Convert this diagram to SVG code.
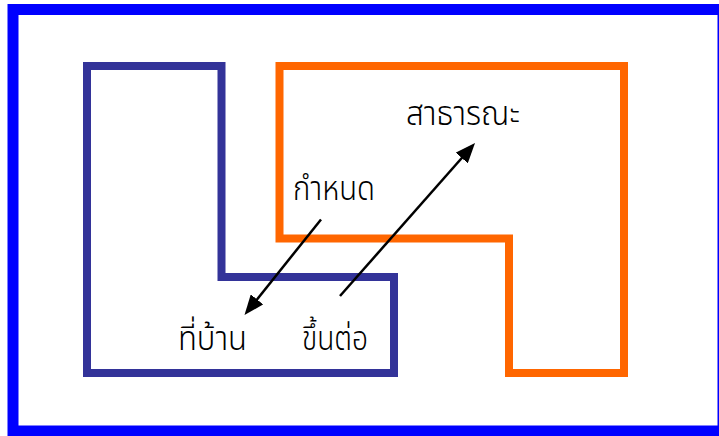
<svg xmlns="http://www.w3.org/2000/svg" width="719" height="436" viewBox="0 0 719 436">
<style>
.lbl{font-family:"Noto Sans Thai","Noto Sans","DejaVu Sans",sans-serif;font-size:34px;font-weight:300;fill:#000}
.conn{stroke:#000;stroke-width:2.5;fill:none}
</style>
<defs>
<marker id="ah" viewBox="0 0 20 16" refX="10" refY="8" markerWidth="20" markerHeight="16" markerUnits="userSpaceOnUse" orient="auto">
<path d="M0,0 L20,8 L0,16 z" fill="#000"/>
</marker>
</defs>
<rect width="719" height="436" fill="#fff"/>
<g id="frame"><rect x="13" y="9.5" width="710" height="421.5" fill="none" stroke="#0000FF" stroke-width="11"/></g>
<g id="home"><polygon points="87,66 221.5,66 221.5,277 394,277 394,373 87,373" fill="none" stroke="#333399" stroke-width="8"/></g>
<g id="public"><polygon points="279.5,66 624,66 624,373 509,373 509,238.5 279.5,238.5" fill="none" stroke="#FF6600" stroke-width="8"/></g>
<g id="label-public"><text class="lbl" x="406" y="125" textLength="114" lengthAdjust="spacingAndGlyphs">สาธารณะ</text></g>
<g id="label-define"><text class="lbl" x="293" y="200" textLength="82" lengthAdjust="spacingAndGlyphs">กำหนด</text></g>
<g id="label-home"><text class="lbl" x="178" y="350" textLength="69" lengthAdjust="spacingAndGlyphs">ที่บ้าน</text></g>
<g id="label-depend"><text class="lbl" x="302" y="350" textLength="66" lengthAdjust="spacingAndGlyphs">ขึ้นต่อ</text></g>
<g id="connectors">
<line class="conn" x1="321" y1="219.5" x2="250.75" y2="307.2" marker-end="url(#ah)"/>
<line class="conn" x1="340" y1="296" x2="468.4" y2="150.5" marker-end="url(#ah)"/>
</g>
</svg>
